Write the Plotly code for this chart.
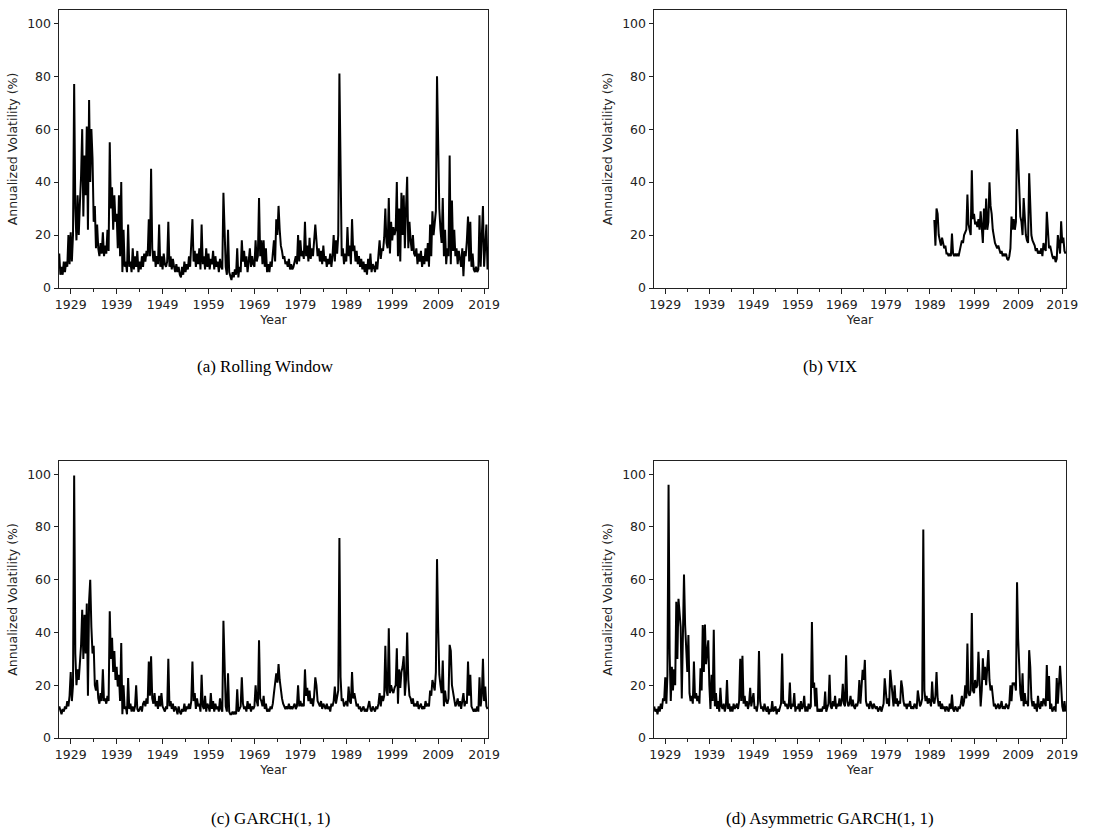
import numpy as np
import plotly.graph_objects as go

# Quarterly annualized volatility estimates (%), first value at mid-1926
rolling_window = [
    13, 5,
    8, 5, 10, 6,
    10, 8, 20, 9,
    21, 10, 20, 77,
    30, 18, 35, 20,
    32, 42, 60, 27,
    50, 35, 61, 22,
    71, 40, 60, 49,
    25, 31, 15, 24,
    15, 12, 17, 13,
    21, 12, 16, 13,
    22, 14, 55, 30,
    38, 22, 35, 25,
    28, 15, 35, 12,
    40, 6, 22, 8,
    10, 6, 24, 8,
    10, 6, 15, 7,
    12, 8, 14, 6,
    10, 7, 12, 8,
    13, 10, 14, 12,
    26, 12, 45, 15,
    10, 14, 8, 12,
    9, 24, 8, 12,
    7, 13, 9, 8,
    10, 25, 8, 12,
    7, 11, 8, 6,
    9, 6, 8, 5,
    4, 8, 5, 10,
    6, 9, 7, 12,
    8, 17, 26, 10,
    14, 8, 13, 9,
    15, 7, 24, 9,
    12, 7, 15, 8,
    13, 7, 11, 9,
    14, 7, 12, 8,
    10, 6, 11, 8,
    7, 36, 19, 8,
    5, 22, 6, 4,
    3, 6, 4, 7,
    5, 15, 4, 8,
    6, 18, 10, 14,
    8, 12, 6, 10,
    15, 8, 12, 9,
    8, 18, 10, 12,
    34, 12, 18, 9,
    18, 8, 15, 6,
    9, 6, 10, 8,
    12, 18, 10, 26,
    20, 31, 22, 16,
    14, 11, 12, 9,
    10, 8, 11, 7,
    9, 7, 8, 10,
    12, 9, 20, 10,
    18, 12, 14, 11,
    25, 12, 16, 10,
    19, 11, 15, 12,
    17, 24, 18, 12,
    15, 10, 14, 9,
    16, 10, 12, 8,
    11, 9, 13, 8,
    12, 20, 10, 18,
    13, 20, 81, 30,
    12, 15, 9, 13,
    10, 23, 12, 16,
    9, 26, 14, 16,
    10, 14, 9, 12,
    8, 11, 7, 10,
    6, 9, 5, 11,
    7, 13, 6, 9,
    8, 6, 10, 7,
    12, 18, 11, 15,
    14, 19, 30, 17,
    15, 34, 13, 25,
    18, 23, 20, 22,
    40, 12, 30, 10,
    36, 20, 35, 15,
    30, 42, 15, 25,
    18, 14, 20, 13,
    12, 15, 9, 13,
    10, 14, 8, 12,
    9, 15, 10, 17,
    8, 24, 12, 29,
    20, 25, 29, 80,
    50, 30, 22, 17,
    34, 12, 22, 9,
    15, 12, 50, 9,
    33, 14, 22, 12,
    15, 9, 14, 11,
    8, 15, 4.5, 14,
    12, 18, 27, 10,
    25, 8, 13, 7,
    6, 8, 6, 7,
    27.5, 8, 24, 31,
    8, 16, 24, 7,
]

garch = [
    12, 10,
    9, 11, 10, 12,
    11, 14, 12, 16,
    25, 14, 20, 99.5,
    32, 20, 26, 22,
    27, 35, 48.6, 30,
    46.7, 32, 51, 16,
    52, 60, 42, 32,
    35, 20, 18, 22,
    15, 13, 17, 14,
    26, 14, 15, 13,
    16, 14, 48, 30,
    38, 25, 33, 22,
    27, 19.5, 24, 14,
    36, 9, 20, 11,
    12, 9, 22.7, 11,
    13, 10, 12, 10,
    12, 20, 11, 10,
    11, 12, 10, 13,
    14, 12, 15, 13,
    29, 16, 31, 15,
    13, 17, 12, 14,
    11, 16, 12, 17,
    12, 11, 10, 12,
    11, 30, 12, 14,
    11, 13, 10, 12,
    11, 9, 12, 10,
    9, 11, 10, 13,
    10, 12, 11, 13,
    11, 14, 29, 14,
    17, 11, 15, 12,
    13, 10, 24, 12,
    11, 16, 10, 13,
    12, 10, 17, 11,
    14, 10, 13, 11,
    12, 10, 15, 11,
    10, 44.4, 21, 12,
    10, 24.5, 10, 9,
    9, 10, 9, 10,
    9, 18.5, 10, 11,
    12, 23, 13, 11,
    12, 10, 14, 11,
    13, 10, 12, 11,
    12, 20, 14, 12,
    37, 15, 14, 12,
    16, 11, 13, 10,
    11, 10, 12, 11,
    13, 17, 20, 24.5,
    21, 28, 22, 18,
    15, 13, 12, 11,
    12, 11, 13, 11,
    12, 11, 12, 13,
    11, 12, 20, 12,
    14, 12, 13, 12,
    26, 16, 19, 14,
    18, 13, 15, 12,
    16, 23, 20, 14,
    13, 12, 14, 11,
    13, 12, 11, 13,
    11, 12, 10, 13,
    12, 14, 19.5, 13,
    15, 18, 75.8, 23,
    14, 15, 12, 13,
    14, 12, 19.5, 14,
    13, 25, 15, 17,
    14, 12, 13, 11,
    12, 10, 11, 12,
    10, 11, 10, 12,
    14, 11, 10, 12,
    11, 10, 12, 11,
    13, 17, 12, 16,
    14, 16, 35, 18,
    16, 41.6, 17, 20,
    18, 17, 19, 20,
    34, 13, 26, 19,
    25, 27, 31, 16,
    22, 40, 22, 16,
    15, 13, 15, 12,
    13, 12, 14, 11,
    12, 13, 11, 12,
    11, 14, 12, 13,
    12, 18, 16, 22,
    20, 18, 25, 67.8,
    42, 24, 20, 17,
    29.4, 12, 18, 14,
    13, 15, 35.3, 33,
    20, 17, 14, 12,
    13, 15, 12, 14,
    11, 15, 17, 12,
    14, 13, 29, 16,
    24, 12, 11, 10,
    11, 10, 12, 10,
    23, 12, 16, 30,
    14, 19.5, 12, 11,
]

asym_garch = [
    12, 10,
    11, 9, 12, 10,
    13, 11, 15, 14,
    23, 13, 24, 96,
    32, 14, 27, 18,
    26, 20, 51.6, 30,
    52.8, 45, 42, 15,
    41, 62, 43, 30,
    25, 39, 17, 14,
    16, 13, 29, 15,
    17, 14, 16, 13,
    26.4, 18, 42.8, 25,
    43, 28, 31.4, 37,
    20, 11, 24, 14,
    41, 12, 17, 11,
    14, 10, 19, 12,
    11, 13, 10, 12,
    22, 11, 13, 10,
    12, 10, 13, 11,
    12, 13, 11, 14,
    30, 14, 31.2, 13,
    16, 12, 14, 11,
    13, 19, 12, 14,
    17, 11, 12, 10,
    13, 33, 14, 11,
    12, 10, 13, 11,
    10, 12, 9, 11,
    10, 14, 10, 11,
    12, 9, 11, 10,
    12, 13, 32, 13,
    14, 12, 13, 11,
    12, 21, 11, 13,
    12, 17, 10, 12,
    11, 13, 10, 14,
    11, 12, 16, 10,
    12, 10, 13, 11,
    12, 44, 19, 21,
    12, 19, 10, 11,
    10, 11, 10, 12,
    11, 17.6, 10, 12,
    13, 24, 12, 11,
    14, 12, 16, 11,
    13, 12, 15, 12,
    14, 20.5, 13, 12,
    31.4, 14, 12, 13,
    16, 12, 14.5, 12,
    11, 13, 12, 14,
    22, 13, 18, 25.8,
    22, 29.6, 14, 12,
    13, 11, 14, 12,
    11, 13, 12, 11,
    12, 10, 11, 12,
    10, 12, 13, 22.6,
    17, 13, 15, 12,
    25.8, 21, 14, 12,
    20, 13, 15, 12,
    14, 13, 21.8, 19,
    14, 12, 13, 11,
    13, 12, 14, 11,
    12, 11, 13, 12,
    11, 18, 14, 12,
    13, 15, 79, 18,
    14, 16, 13, 15,
    14, 12, 21.4, 14,
    13, 16, 25, 15,
    12, 14, 11, 13,
    11, 12, 10, 12,
    11, 10, 13, 11,
    16.5, 11, 10, 12,
    11, 10, 12, 11,
    13, 16, 12, 14,
    20, 15, 35.8, 17,
    16, 18, 47.4, 18,
    17, 22, 19, 20,
    32.7, 21, 12, 18,
    30.2, 22, 27, 20,
    25, 33.3, 22, 18,
    20, 14, 12, 13,
    11, 12, 13, 11,
    12, 14, 11, 12,
    11, 13, 12, 11,
    13, 20, 14, 21,
    20, 21, 18, 59,
    37.7, 25, 17, 14,
    24.5, 12, 17, 13,
    14, 12, 33.3, 27,
    15, 12, 14, 11,
    13, 10, 16, 12,
    11, 14, 12, 15,
    13, 12, 27.7, 14,
    23.5, 11, 13, 10,
    11, 12, 10, 22.7,
    13, 22.7, 27.4, 20,
    12, 10, 14, 10,
]

# VIX is only available from 1990 onwards
vix = [
    25.7, 16, 30, 28,
    20, 18, 16, 19,
    17, 15, 16, 13,
    13, 12, 13, 12,
    20.6, 13, 12, 13,
    12, 13, 12, 15,
    16, 18, 17, 20,
    21, 22, 35.3, 24,
    22, 20, 44.5, 26,
    28, 24, 25, 23,
    26, 22, 29, 24,
    17, 30, 22, 33.8,
    22, 25, 39.9, 31,
    28, 22, 19, 17,
    16, 15, 16, 14,
    13, 14, 12, 13,
    12, 13, 11, 10.5,
    12, 15, 27, 22,
    26, 22, 25, 60,
    47, 40, 27, 25,
    20, 34, 26, 20,
    18, 17, 43.3, 30,
    20, 18, 17, 16,
    14, 15, 13, 14,
    13, 15, 12, 17,
    15, 14, 28.8, 19,
    15, 16, 13, 12,
    11, 12, 9.8, 11,
    20, 16, 13, 25.2,
    17, 19, 14, 13,
]

series_start = 1926.5
vix_start = 1990.0
step = 0.25

major_years = list(range(1929, 2020, 10))
minor_years = list(range(1934, 2020, 10))
y_ticks = [0, 20, 40, 60, 80, 100]

captions = ["(a) Rolling Window", "(b) VIX", "(c) GARCH(1, 1)", "(d) Asymmetric GARCH(1, 1)"]

W, H = 1104, 832
# plot-area boxes in pixels: (left, right, top, bottom)
boxes = [(59, 488, 10, 288), (654, 1066, 10, 288),
         (59, 488, 461, 738), (654, 1066, 461, 738)]
caption_pos = [(265, 367), (830, 367), (270, 818), (830, 818)]

tick_font = dict(family="DejaVu Sans", size=12.5, color="#222222")
ink = "#222222"

fig = go.Figure()

data = [
    (series_start, rolling_window),
    (vix_start, vix),
    (series_start, garch),
    (series_start, asym_garch),
]

for i, (start, vals) in enumerate(data):
    t = start + step * np.arange(len(vals))
    suffix = "" if i == 0 else str(i + 1)
    fig.add_trace(go.Scatter(
        x=t, y=vals, mode="lines",
        line=dict(color="black", width=2.0),
        xaxis="x" + suffix, yaxis="y" + suffix,
        showlegend=False, hoverinfo="skip",
    ))

layout = dict(
    width=W, height=H,
    margin=dict(l=0, r=0, t=0, b=0),
    paper_bgcolor="white", plot_bgcolor="white",
    showlegend=False,
    annotations=[],
)

for i, (l, r, tp, bt) in enumerate(boxes):
    suffix = "" if i == 0 else str(i + 1)
    layout["xaxis" + suffix] = dict(
        domain=[l / W, r / W],
        anchor="y" + suffix,
        range=[1926.45, 2019.85],
        tickmode="array", tickvals=major_years,
        ticktext=[str(y) for y in major_years],
        ticks="outside", ticklen=4.5, tickwidth=1, tickcolor=ink,
        showline=True, linecolor=ink, linewidth=1, mirror=True,
        showgrid=False, zeroline=False,
        tickfont=tick_font,
        title=dict(text="Year", font=tick_font, standoff=2),
        minor=dict(tickmode="array", tickvals=minor_years, ticks="outside",
                   ticklen=2.5, tickwidth=1, tickcolor=ink, showgrid=False),
        automargin=False,
    )
    layout["yaxis" + suffix] = dict(
        domain=[1 - bt / H, 1 - tp / H],
        anchor="x" + suffix,
        range=[0, 105],
        tickmode="array", tickvals=y_ticks,
        ticks="outside", ticklen=4.5, tickwidth=1, tickcolor=ink,
        showline=True, linecolor=ink, linewidth=1, mirror=True,
        showgrid=False, zeroline=False,
        tickfont=tick_font,
        title=dict(text="Annualized Volatility (%)", font=tick_font, standoff=6),
        automargin=False,
    )
    cx, cy = caption_pos[i]
    layout["annotations"].append(dict(
        text=captions[i], x=cx / W, y=1 - cy / H,
        xref="paper", yref="paper", xanchor="center", yanchor="middle",
        showarrow=False,
        font=dict(family="Liberation Serif", size=17, color="black"),
    ))

fig.update_layout(**layout)
fig.write_html("out.html")
